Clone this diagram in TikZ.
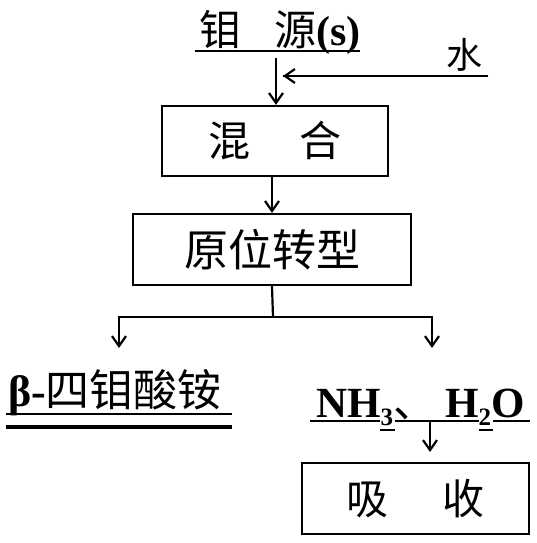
\documentclass[tikz,border=0pt]{standalone}
\usepackage{fontspec}
\setmainfont{Liberation Serif}
\newfontfamily\cjk{Noto Sans CJK SC}
\usetikzlibrary{arrows.meta, positioning, calc}

\newcommand\chemsub[1]{\raisebox{-8pt}{\fontsize{25}{25}\selectfont #1}}

\tikzset{
  box/.style={draw, line width=2.2pt, inner sep=0pt, font=\fontsize{42}{42}\selectfont\cjk},
  label/.style={anchor=base west, inner sep=0pt},
  uline/.style={line width=2pt}
}

\begin{document}
\begin{tikzpicture}[x=1pt, y=-1pt, >={Straight Barb[length=10pt,width=14pt]}, line width=2.2pt]
		\useasboundingbox (0,0) rectangle (536,543);

		\node[label, font=\fontsize{42}{42}\selectfont] (src) at (198,46) {{\cjk 钼\hspace{33pt}源}{\bfseries (s)}};
		\node[label, font=\fontsize{36}{36}\selectfont\cjk] (water) at (445,69) {水};

		\node[box, minimum width=226pt, minimum height=70pt] (mix) at (275,141) {混\hspace{50pt}合};
		\node[box, minimum width=278pt, minimum height=71pt, font=\fontsize{44}{44}\selectfont\cjk] (conv) at (272,249.5) {原位转型};
		\node[box, minimum width=227pt, minimum height=71pt] (abs) at (415.5,498.5) {吸\hspace{54pt}收};

		\node[label, font=\fontsize{44}{44}\selectfont] (prod) at (7,406) {{\bfseries β-}{\cjk 四钼酸铵}};
		\node[label, font=\fontsize{43}{43}\selectfont\bfseries] (gas) at (315,417) {NH\chemsub{3}{\cjk\mdseries 、}\hspace{9pt}H\chemsub{2}O};

		% underlines
		\draw[uline] (195,51) -- (360,51);
		\draw[uline] (283,76) -- (488,76);
		\draw[uline] (6,414) -- (232,414);
		\draw[line width=4pt] (6,427) -- (232,427);
		\draw[uline] (310,421) -- (380,421);
		\draw[uline] (395,421) -- (479,421);
		\draw[uline] (493,421) -- (530,421);
		\draw[uline] (380,430) -- (395,430);
		\draw[uline] (479,430) -- (493,430);

		\coordinate (srcout) at (276,58);
		\coordinate (win) at (488,76);
		\coordinate (wout) at (283,76);
		\coordinate (split) at (273,317);
		\coordinate (prodin) at (119,348);
		\coordinate (gasin) at (432,348);
		\coordinate (gasout) at (430,421);
		\coordinate (absin) at (430,452);

		\draw[->] (srcout) -- (srcout |- mix.north);
		\draw[->] (win) -- (wout);
		\draw[->] (conv.north |- mix.south) -- (conv.north);
		\draw (conv.south) -- (split);
		\draw[->] (split) -| (prodin);
		\draw[->] (split) -| (gasin);
		\draw[->] (gasout) -- (absin);
	\end{tikzpicture}
\end{document}
